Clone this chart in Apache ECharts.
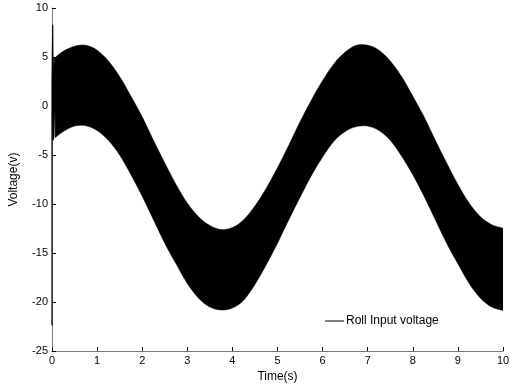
<!DOCTYPE html>
<html>
<head>
<meta charset="utf-8">
<script src="https://cdn.jsdelivr.net/npm/echarts@6/dist/echarts.min.js"></script>
<style>
  html, body { margin: 0; padding: 0; background: #fff; }
  #chart { width: 524px; height: 388px; }
</style>
</head>
<body>
<div id="chart"></div>
<script>
// Roll input voltage: the fast oscillation is drawn as the band between its envelopes
const timeS = [0.08, 0.25, 0.5, 0.75, 1.0, 1.25, 1.5, 1.75, 2.0, 2.25, 2.5, 2.75, 3.0, 3.25, 3.5, 3.75,
  4.0, 4.25, 4.5, 4.75, 5.0, 5.25, 5.5, 5.75, 6.0, 6.25, 6.5, 6.75, 7.0, 7.25, 7.5, 7.75,
  8.0, 8.25, 8.5, 8.75, 9.0, 9.25, 9.5, 9.75, 10.0];
const upperV = [5.0, 5.6, 6.1, 6.2, 5.7, 4.6, 3.0, 1.0, -1.1, -3.5, -5.8, -8.0, -9.9, -11.3, -12.2, -12.6,
  -12.4, -11.6, -10.2, -8.4, -6.3, -4.0, -1.6, 0.6, 2.6, 4.3, 5.5, 6.2, 6.2, 5.7, 4.6, 3.0,
  1.0, -1.1, -3.5, -5.8, -8.0, -9.9, -11.3, -12.1, -12.45];
const lowerV = [-3.2, -2.6, -2.05, -2.0, -2.5, -3.5, -5.0, -7.0, -9.2, -11.6, -14.0, -16.1, -18.1, -19.6, -20.5, -20.8,
  -20.6, -19.8, -18.2, -16.2, -14.0, -11.6, -9.3, -7.1, -5.2, -3.6, -2.6, -2.1, -2.05, -2.5, -3.5, -5.1,
  -7.0, -9.2, -11.6, -14.0, -16.1, -18.1, -19.6, -20.5, -20.85];
// start-up transient at t = 0
const transient = [[0, -22.4], [0, 2.0], [0.015, 8.3], [0.03, -3.5], [0.05, 5.0], [0.07, -3.2], [0.08, 5.0]];

const xTicks = { min: 0, max: 10, step: 1 };
const yTicks = { min: -25, max: 10, step: 5 };
const seriesName = 'Roll Input voltage';

const bandData = timeS.map((t, i) => [t, upperV[i], lowerV[i]]);

const axisGrey = '#7a7a7a';
const font = 'Liberation Sans, Arial, Helvetica, sans-serif';

// Catmull-Rom spline through pixel points, as cubic Bezier segments
function splineSegments(pts) {
  let d = '';
  for (let i = 0; i < pts.length - 1; i++) {
    const p0 = pts[Math.max(i - 1, 0)];
    const p1 = pts[i];
    const p2 = pts[i + 1];
    const p3 = pts[Math.min(i + 2, pts.length - 1)];
    const c1x = p1[0] + (p2[0] - p0[0]) / 6, c1y = p1[1] + (p2[1] - p0[1]) / 6;
    const c2x = p2[0] - (p3[0] - p1[0]) / 6, c2y = p2[1] - (p3[1] - p1[1]) / 6;
    d += ' C' + c1x + ',' + c1y + ' ' + c2x + ',' + c2y + ' ' + p2[0] + ',' + p2[1];
  }
  return d;
}

function renderBand(params, api) {
  if (params.dataIndex !== 0) return null;
  const up = bandData.map(r => api.coord([r[0], r[1]]));
  const lo = bandData.map(r => api.coord([r[0], r[2]])).reverse();
  let d = 'M' + up[0][0] + ',' + up[0][1] + splineSegments(up);
  d += ' L' + lo[0][0] + ',' + lo[0][1] + splineSegments(lo) + ' Z';
  return {
    type: 'path',
    shape: { pathData: d },
    style: { fill: '#000', stroke: '#000', lineWidth: 0.5 }
  };
}

const chart = echarts.init(document.getElementById('chart'));
chart.setOption({
  animation: false,
  backgroundColor: '#fff',
  grid: { left: 49, right: 21, top: 8, bottom: 34, containLabel: false },
  xAxis: {
    type: 'value', min: xTicks.min, max: xTicks.max, interval: xTicks.step,
    name: 'Time(s)', nameLocation: 'middle', nameGap: 18,
    nameTextStyle: { color: '#000', fontSize: 12, fontFamily: font },
    axisLine: { show: true, onZero: false, lineStyle: { color: axisGrey, width: 1 } },
    axisTick: { show: true, inside: true, length: 4, lineStyle: { color: '#000' } },
    axisLabel: { color: '#000', fontSize: 11, fontFamily: font, margin: 4 },
    splitLine: { show: false }
  },
  yAxis: {
    type: 'value', min: yTicks.min, max: yTicks.max, interval: yTicks.step,
    name: 'Voltage(v)', nameLocation: 'middle', nameGap: 32,
    nameTextStyle: { color: '#000', fontSize: 12, fontFamily: font },
    axisLine: { show: true, onZero: false, lineStyle: { color: axisGrey, width: 1 } },
    axisTick: { show: true, inside: true, length: 4, lineStyle: { color: '#000' } },
    axisLabel: { color: '#000', fontSize: 11, fontFamily: font, margin: 4 },
    splitLine: { show: false }
  },
  legend: {
    data: [{ name: seriesName, icon: 'rect' }],
    left: 320, top: 310, itemWidth: 19, itemHeight: 1,
    textStyle: { color: '#000', fontSize: 12, fontFamily: font, padding: [0, 0, 0, -3] },
    selectedMode: false
  },
  series: [
    {
      name: 'band', type: 'custom', data: bandData, renderItem: renderBand,
      encode: { x: 0, y: [1, 2] }, silent: true, clip: true, z: 2
    },
    {
      name: seriesName, type: 'line', data: transient, symbol: 'none',
      lineStyle: { width: 1.2, color: '#000' }, itemStyle: { color: '#000' }, z: 3
    }
  ]
});
</script>
</body>
</html>
